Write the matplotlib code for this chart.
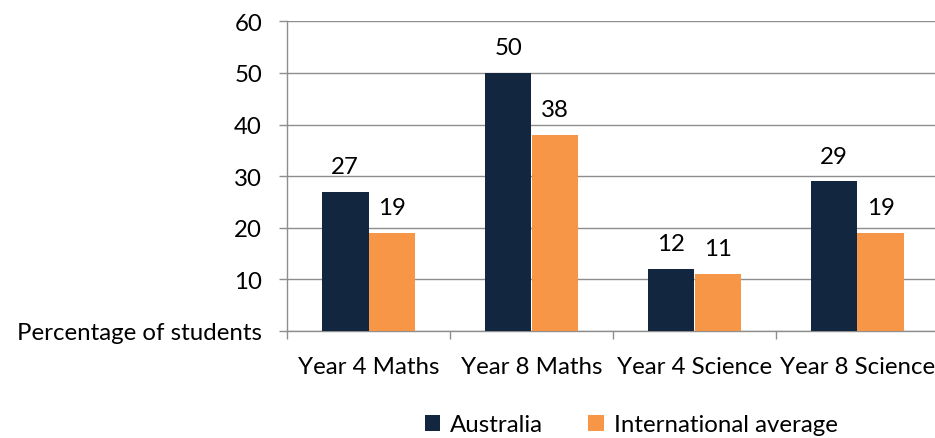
import matplotlib
matplotlib.use("Agg")
import matplotlib.pyplot as plt
import numpy as np

categories = ["Year 4 Maths", "Year 8 Maths", "Year 4 Science", "Year 8 Science"]
australia = [27, 50, 12, 29]
international = [19, 38, 11, 19]
series_names = ["Australia", "International average"]
yticks = [0, 10, 20, 30, 40, 50, 60]
ytick_labels = ["Percentage of students", "10", "20", "30", "40", "50", "60"]

plt.rcParams['font.family'] = ['Lato', 'DejaVu Sans']
FS = 17.3
navy = '#13263F'
orange = '#F79646'
grid_c = '#8e8e8e'

fig = plt.figure(figsize=(9.35, 4.39), dpi=100)
ax = fig.add_axes([287/935, 1-332/439, 652/935, (332-22.3)/439])

x = np.arange(len(categories))
w = 0.285
b1 = ax.bar(x - w/2, australia, w, color=navy, label=series_names[0], zorder=3)
b2 = ax.bar(x + w/2, international, w, color=orange, label=series_names[1], zorder=3)

for bars, vals in ((b1, australia), (b2, international)):
    for r, v in zip(bars, vals):
        ax.annotate(str(v), (r.get_x() + r.get_width()/2, v), xytext=(0, 13.5),
                    textcoords='offset points', ha='center', va='baseline', fontsize=FS)

ax.set_xlim(-0.5, len(categories) - 0.5)
ax.set_ylim(0, 60)
ax.set_yticks(yticks)
ax.set_yticklabels(ytick_labels, fontsize=FS)
ax.set_xticks(x)
ax.set_xticklabels(categories, fontsize=FS)
ax.set_xticks(np.arange(len(categories) + 1) - 0.5, minor=True)
ax.tick_params(axis='x', which='major', length=0, pad=18)
ax.tick_params(axis='x', which='minor', length=6, color=grid_c, width=1)
ax.tick_params(axis='y', length=6, color=grid_c, width=1, pad=12)

ax.grid(axis='y', color=grid_c, linewidth=1.0, zorder=0)
for s in ['top', 'right']:
    ax.spines[s].set_visible(False)
for s in ['left', 'bottom']:
    ax.spines[s].set_color(grid_c)
    ax.spines[s].set_linewidth(1.0)

leg = fig.legend(handles=[b1, b2], labels=series_names, loc='center', ncol=2,
                 bbox_to_anchor=(631/935, 1-426/439), frameon=False, fontsize=FS,
                 handlelength=0.65, handleheight=0.65, handletextpad=0.4, columnspacing=1.9)

fig.savefig("out.png", dpi=100)
